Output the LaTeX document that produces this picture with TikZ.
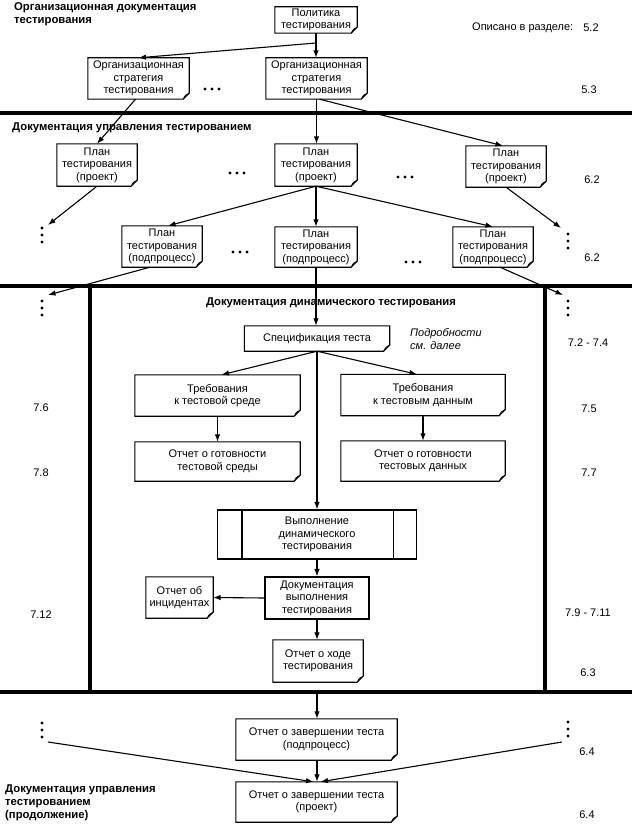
\documentclass[tikz,border=0pt]{standalone}
\usepackage{fontspec}
\setmainfont{Liberation Sans}
\usetikzlibrary{arrows.meta}
\newcommand\docout[1]{%
  \draw[line width=1.1pt, line join=miter] (#1.north west) -- (#1.north east) -- ([yshift=6pt]#1.south east) -- ([xshift=-6pt]#1.south east) -- (#1.south west) -- cycle;
  \draw[line width=0.8pt] ([xshift=-6pt]#1.south east) .. controls ([xshift=-4pt,yshift=4pt]#1.south east) .. ([yshift=6pt]#1.south east);}
\newcommand\hdotgrp[2]{\fill (#1-7,#2) circle (1.6pt) (#1,#2) circle (1.6pt) (#1+7,#2) circle (1.6pt);}
\newcommand\vdotgrp[2]{\fill (#1,#2-7) circle (1.6pt) (#1,#2) circle (1.6pt) (#1,#2+7) circle (1.6pt);}
\begin{document}
\begin{tikzpicture}[x=1pt,y=-1pt,
  every node/.style={font=\fontsize{11}{12.5}\selectfont, inner sep=0pt},
  doc/.style={align=center},
  box/.style={draw, line width=1.1pt, align=center},
  conn/.style={line width=1.1pt, -{Latex[length=7.5pt,width=5.5pt]}},
  sep/.style={line width=3.5pt},
  hd/.style={font=\fontsize{11.3}{13}\selectfont\bfseries, align=left},
  num/.style={}]
\useasboundingbox (0,0) rectangle (632,824);
% separators
\draw[sep] (0,113) -- (632,113);
\draw[sep] (0,286) -- (632,286);
\draw[sep] (0,692) -- (632,692);
\draw[sep] (90,286) -- (90,692);
\draw[sep] (545,286) -- (545,692);
% headings
\node[hd, anchor=north west] (h1) at (14,2.5) {Организационная документация\\тестирования};
\node[hd, anchor=west] (h2) at (12,128) {Документация управления тестированием};
\node[hd] (h3) at (331,303) {Документация динамического тестирования};
\node[hd, anchor=north west] (h4) at (5,785) {Документация управления\\тестированием\\(продолжение)};
\node[anchor=west] (lbl) at (472,28) {Описано в разделе:};
\node[font=\fontsize{11}{12.5}\selectfont\itshape, align=left, anchor=west] (more) at (410,339) {Подробности\\см. далее};
% numbers
\node[num] (n1) at (591,28) {5.2};
\node[num] (n2) at (589,90) {5.3};
\node[num] (n3) at (592,180) {6.2};
\node[num] (n4) at (592,258) {6.2};
\node[num] (n5) at (588,343) {7.2 - 7.4};
\node[num] (n6) at (589,409) {7.5};
\node[num] (n7) at (589,473) {7.7};
\node[num] (n8) at (588,613) {7.9 - 7.11};
\node[num] (n9) at (588,673) {6.3};
\node[num] (n10) at (587,752) {6.4};
\node[num] (n11) at (587,815) {6.4};
\node[num] (n12) at (41,408) {7.6};
\node[num] (n13) at (41,473) {7.8};
\node[num] (n14) at (41,615) {7.12};
% boxes
\node[doc,minimum width=82pt,minimum height=26pt] (pol) at (316,20) {Политика\\тестирования};
\node[doc,minimum width=101pt,minimum height=41pt] (strL) at (138.5,78.5) {Организационная\\стратегия\\тестирования};
\node[doc,minimum width=101pt,minimum height=41pt] (strR) at (316.5,78.5) {Организационная\\стратегия\\тестирования};
\node[doc,minimum width=80pt,minimum height=42pt] (planL) at (97,165) {План\\тестирования\\(проект)};
\node[doc,minimum width=82pt,minimum height=42pt] (planC) at (316,165) {План\\тестирования\\(проект)};
\node[doc,minimum width=80pt,minimum height=41pt] (planR) at (506,166.5) {План\\тестирования\\(проект)};
\node[doc,minimum width=80pt,minimum height=41pt] (subL) at (162,246.5) {План\\тестирования\\(подпроцесс)};
\node[doc,minimum width=82pt,minimum height=40pt] (subC) at (316,247) {План\\тестирования\\(подпроцесс)};
\node[doc,minimum width=80pt,minimum height=40pt] (subR) at (493,247) {План\\тестирования\\(подпроцесс)};
\node[doc,minimum width=145pt,minimum height=25pt] (spec) at (317,338.5) {Спецификация теста};
\node[doc,minimum width=165pt,minimum height=41pt] (reqL) at (217.5,395.5) {Требования\\к тестовой среде};
\node[doc,minimum width=165pt,minimum height=39pt] (readyL) at (217.5,461.5) {Отчет о готовности\\тестовой среды};
\node[doc,minimum width=164pt,minimum height=41pt] (reqR) at (423,395) {Требования\\к тестовым данным};
\node[doc,minimum width=164pt,minimum height=40pt] (readyR) at (423,461) {Отчет о готовности\\тестовых данных};
\node[box,minimum width=199pt,minimum height=49pt] (exec) at (317,534.5) {Выполнение\\динамического\\тестирования};
\node[box,minimum width=104pt,minimum height=42pt] (docexec) at (317,598) {Документация\\выполнения\\тестирования};
\node[doc,minimum width=67pt,minimum height=41pt] (inc) at (179.5,597.5) {Отчет об\\инцидентах};
\node[doc,minimum width=90pt,minimum height=42pt] (prog) at (318,661) {Отчет о ходе\\тестирования};
\node[doc,minimum width=161pt,minimum height=41pt] (compS) at (316.5,739.5) {Отчет о завершении теста\\(подпроцесс)};
\node[doc,minimum width=161pt,minimum height=40pt] (compP) at (316.5,802) {Отчет о завершении теста\\(проект)};
\foreach \n in {pol,strL,strR,planL,planC,planR,subL,subC,subR,spec,reqL,readyL,reqR,readyR,inc,prog,compS,compP}{\docout{\n}}
\draw[line width=1.1pt] ([xshift=25pt]exec.north west) -- ([xshift=25pt]exec.south west);
\draw[line width=1.1pt] ([xshift=-24pt]exec.north east) -- ([xshift=-24pt]exec.south east);
% dots
\hdotgrp{212}{89}
\hdotgrp{237}{173}
\hdotgrp{405}{177}
\hdotgrp{240}{252}
\hdotgrp{413}{262}
\vdotgrp{42}{235}
\vdotgrp{568}{241}
\vdotgrp{42}{308}
\vdotgrp{568}{308}
\vdotgrp{42}{730}
\vdotgrp{568}{729}
% free ends
\coordinate (b1) at (316,43);
\coordinate (b2) at (317,692);
\coordinate (dL1) at (48,225);
\coordinate (dR1) at (561,228);
\coordinate (dL2) at (48,295);
\coordinate (dR2) at (563,295);
\coordinate (dL3) at (48,742);
\coordinate (dR3) at (562,742);
% connectors
\draw[conn] (pol.south) -- (strR.north -| pol.south);
\draw[conn] (b1) -- (strL.north);
\draw[conn] ([xshift=-3pt]strL.south) -- (planL.north);
\draw[conn] (strR.south) -- (planC.north -| strR.south);
\draw[conn] ([xshift=3pt]strR.south) -- ([xshift=-3pt]planR.north);
\draw[conn] (planL.south) -- (dL1);
\draw[conn] (planR.south) -- (dR1);
\draw[conn] (planC.south) -- (subC.north);
\draw[conn] (planC.south) -- ([xshift=6pt]subL.north);
\draw[conn] (planC.south) -- (subR.north);
\draw[conn] ([xshift=-12pt]subL.south) -- (dL2);
\draw[conn] ([xshift=7pt]subR.south) -- (dR2);
\draw[conn] (subC.south) -- (spec.north -| subC.south);
\draw[conn] (spec.south) -- (exec.north);
\draw[conn] (spec.south) -- ([xshift=4pt]reqL.north);
\draw[conn] (spec.south) -- ([xshift=-6pt]reqR.north);
\draw[conn] (reqL.south) -- (readyL.north);
\draw[conn] (reqR.south) -- (readyR.north);
\draw[conn] (exec.south) -- (docexec.north);
\draw[conn] (docexec.west) -- (inc.east);
\draw[conn] (docexec.south) -- (prog.north -| docexec.south);
\draw[conn] (b2) -- (compS.north -| b2);
\draw[conn] (compS.south -| b2) -- (compP.north -| b2);
\draw[conn] (dL3) -- ([xshift=-3pt]compP.north);
\draw[conn] (dR3) -- ([xshift=4pt]compP.north);
\end{tikzpicture}
\end{document}
